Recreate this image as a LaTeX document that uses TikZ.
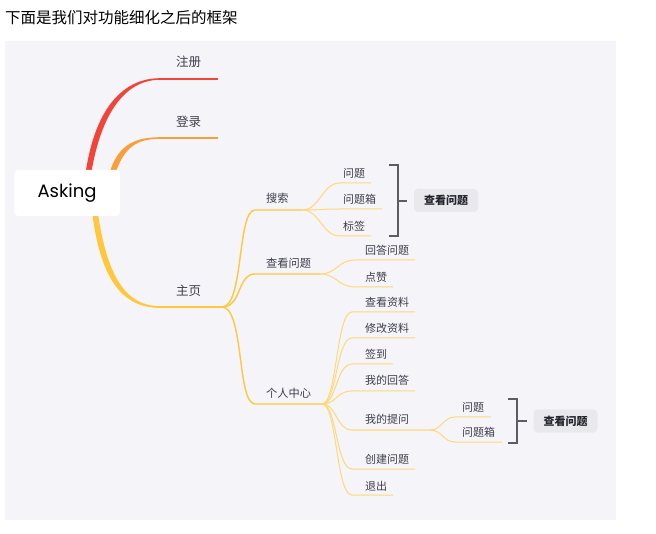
\documentclass[tikz,border=0pt]{standalone}
\usepackage{fontspec}
\setmainfont{Noto Sans CJK SC}
\newfontfamily\askfont{Poppins}
\usetikzlibrary{backgrounds}
\definecolor{panel}{HTML}{F4F4F9}
\definecolor{cred}{HTML}{F2453A}
\definecolor{corg}{HTML}{F99E38}
\definecolor{ylw}{HTML}{FFC73C}
\definecolor{lylw}{HTML}{FFD878}
\definecolor{txt}{HTML}{3E3F4A}
\definecolor{dtxt}{HTML}{23242C}
\definecolor{brkc}{HTML}{5C5C62}
\definecolor{boxc}{HTML}{E9E9ED}
\begin{document}
\begin{tikzpicture}[x=1pt,y=-1pt,
  lbl/.style={anchor=west, inner sep=0pt, text=txt},
  l1/.style={lbl, font=\fontsize{12.5}{14}\selectfont},
  l2/.style={lbl, font=\fontsize{11.2}{13}\selectfont},
  l3/.style={lbl, font=\fontsize{11}{13}\selectfont},
  c2/.style={draw=ylw, line width=1.4pt},
  c3/.style={draw=lylw, line width=1pt},
  brk/.style={draw=brkc, line width=1.5pt},
  sumbox/.style={fill=boxc, rounded corners=4pt, minimum width=64pt, minimum height=23pt, inner sep=0pt, text=dtxt, font=\bfseries\fontsize{11}{13}\selectfont},
  rootbox/.style={fill=white, rounded corners=4pt, minimum width=106pt, minimum height=46pt, inner sep=0pt, text=black, font=\askfont\fontsize{18}{20}\selectfont}
]
\useasboundingbox (0,0) rectangle (656,534);
\node[anchor=west, inner sep=0pt, text=black, font=\fontsize{15.5}{18}\selectfont] (title) at (5,18) {下面是我们对功能细化之后的框架};

% root
\node[rootbox] (ask) at (67,193) {\raisebox{-2pt}{Asking}};

% level 1 labels and lines
\node[l1] (zc) at (176,62) {注册};
\node[l1] (dl) at (176,122) {登录};
\node[l1] (zy) at (176,291) {主页};
\coordinate (zc1) at (160,79);  \coordinate (zc2) at (218,79);
\coordinate (dl1) at (160,138); \coordinate (dl2) at (218,138);
\coordinate (zy1) at (160,307); \coordinate (zy2) at (222,307);
\coordinate (rs) at (86,192);
\coordinate (os) at (108,192);
\coordinate (ys) at (93,196);

% level 2
\node[l2] (ss) at (266,198) {搜索};
\node[l2] (ck) at (266,263) {查看问题};
\node[l2] (gr) at (266,393) {个人中心};
\coordinate (ss1) at (255,210); \coordinate (ss2) at (302,210);
\coordinate (ck1) at (255,274); \coordinate (ck2) at (320,274);
\coordinate (gr1) at (255,404); \coordinate (gr2) at (322,404);

% level 3 under 搜索
\node[l3] (a) at (343,173) {问题};
\node[l3] (b) at (343,199) {问题箱};
\node[l3] (c) at (343,226) {标签};
\coordinate (a1) at (340,183); \coordinate (a2) at (371,183);
\coordinate (b1) at (340,209); \coordinate (b2) at (382,209);
\coordinate (c1) at (340,236); \coordinate (c2) at (371,236);

% level 3 under 查看问题
\node[l3] (d) at (365,250) {回答问题};
\node[l3] (e) at (365,277) {点赞};
\coordinate (d1) at (355,260); \coordinate (d2) at (415,260);
\coordinate (e1) at (355,287); \coordinate (e2) at (393,287);

% level 3 under 个人中心
\node[l3] (f) at (365,302) {查看资料};
\node[l3] (g) at (365,328) {修改资料};
\node[l3] (h) at (365,354) {签到};
\node[l3] (i) at (365,380) {我的回答};
\node[l3] (j) at (365,419) {我的提问};
\node[l3] (k) at (365,459) {创建问题};
\node[l3] (m) at (365,486) {退出};
\coordinate (f1) at (352,312); \coordinate (f2) at (415,312);
\coordinate (g1) at (352,338); \coordinate (g2) at (415,338);
\coordinate (h1) at (352,364); \coordinate (h2) at (393,364);
\coordinate (i1) at (352,391); \coordinate (i2) at (415,391);
\coordinate (j1) at (352,430); \coordinate (j2) at (430,430);
\coordinate (k1) at (352,469); \coordinate (k2) at (415,469);
\coordinate (m1) at (352,495); \coordinate (m2) at (393,495);

% level 4 under 我的提问
\node[l3] (n) at (462,407) {问题};
\node[l3] (p) at (462,432) {问题箱};
\coordinate (n1) at (455,417); \coordinate (n2) at (491,417);
\coordinate (p1) at (455,442); \coordinate (p2) at (502,442);

% summaries
\node[sumbox] (s1) at (446,200.5) {查看问题};
\node[sumbox] (s2) at (565.5,421) {查看问题};
\coordinate (br1t) at (398,165); \coordinate (br1b) at (398,236); \coordinate (br1m) at (398,201); \coordinate (br1e) at (407,201);
\coordinate (br2t) at (517,399); \coordinate (br2b) at (517,443); \coordinate (br2m) at (517,421); \coordinate (br2e) at (527,421);

\begin{scope}[on background layer]
  \fill[white] (0,0) rectangle (656,534);
  \fill[panel] (5,41) rectangle (616,520);
  % root branches (tapered)
  \fill[cred] ([xshift=-2.6pt]rs) .. controls +(7,-82) and +(-38,0) .. ([yshift=0.8pt]zc1)
     -- ([yshift=-0.8pt]zc1) .. controls +(-34,0) and +(9,-80) .. ([xshift=2.6pt]rs) -- cycle;
  \draw[cred, line width=1.6pt] (zc1) -- (zc2);
  \fill[corg] ([xshift=-2.4pt]os) .. controls +(6,-44) and +(-30,0) .. ([yshift=0.8pt]dl1)
     -- ([yshift=-0.8pt]dl1) .. controls +(-27,0) and +(9,-42) .. ([xshift=2.4pt]os) -- cycle;
  \draw[corg, line width=1.6pt] (dl1) -- (dl2);
  \fill[ylw] ([xshift=-2.6pt]ys) .. controls +(7,80) and +(-40,0) .. ([yshift=-0.9pt]zy1)
     -- ([yshift=0.9pt]zy1) .. controls +(-36,0) and +(9,78) .. ([xshift=2.6pt]ys) -- cycle;
  \draw[ylw, line width=1.8pt] (zy1) -- (zy2);

  % level 2
  \draw[c2] (zy2) .. controls +(22,0) and +(-18,0) .. (ss1) -- (ss2);
  \draw[c2] (zy2) .. controls +(20,0) and +(-18,0) .. (ck1) -- (ck2);
  \draw[c2] (zy2) .. controls +(22,0) and +(-18,0) .. (gr1) -- (gr2);

  % level 3
  \foreach \s/\t in {a1/a2,b1/b2,c1/c2}
    \draw[c3] (ss2) .. controls +(18,0) and +(-18,0) .. (\s) -- (\t);
  \foreach \s/\t in {d1/d2,e1/e2}
    \draw[c3] (ck2) .. controls +(17,0) and +(-17,0) .. (\s) -- (\t);
  \foreach \s/\t in {f1/f2,g1/g2,h1/h2,i1/i2,j1/j2,k1/k2,m1/m2}
    \draw[c3] (gr2) .. controls +(15,0) and +(-16,0) .. (\s) -- (\t);
  \foreach \s/\t in {n1/n2,p1/p2}
    \draw[c3] (j2) .. controls +(12,0) and +(-12,0) .. (\s) -- (\t);
\end{scope}

% brackets
\draw[brk] ([xshift=-9pt]br1t) -- (br1t) -- (br1b) -- ([xshift=-9pt]br1b);
\draw[brk] (br1m) -- (br1e);
\draw[brk] ([xshift=-9pt]br2t) -- (br2t) -- (br2b) -- ([xshift=-9pt]br2b);
\draw[brk] (br2m) -- (br2e);
\end{tikzpicture}
\end{document}
